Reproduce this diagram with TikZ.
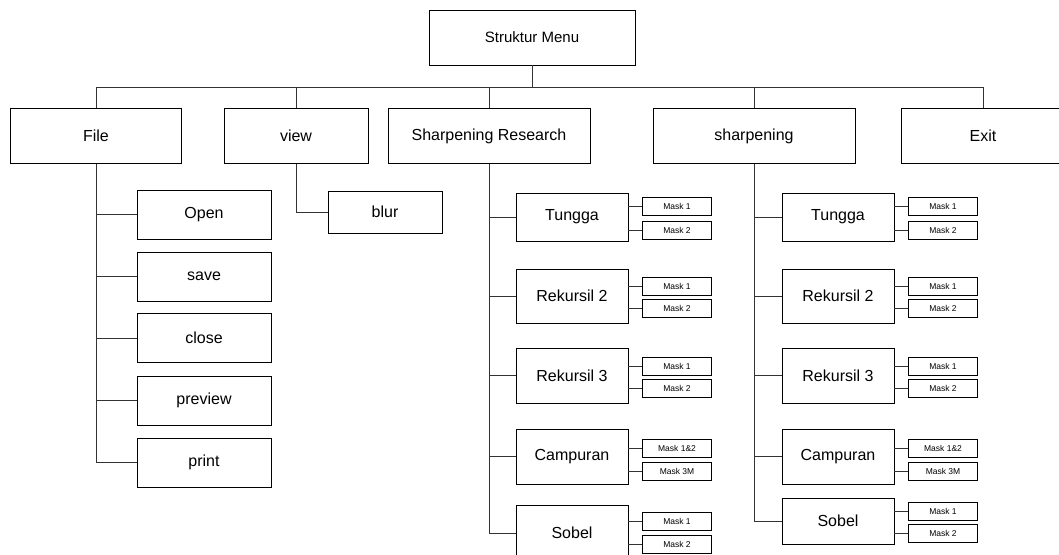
\documentclass[tikz,border=0pt]{standalone}
\usepackage{fontspec}
\setmainfont{Liberation Sans}
\usetikzlibrary{positioning}

\tikzset{
  box/.style={draw, line width=.8pt, inner sep=0pt, font=\fontsize{16}{18}\selectfont},
  subbox/.style={box, minimum width=112pt},
  mbox/.style={draw, line width=.8pt, inner sep=0pt, minimum width=69pt, minimum height=18pt, font=\fontsize{8.5}{9}\selectfont},
  link/.style={line width=.8pt, black!80}
}

\begin{document}
\begin{tikzpicture}[x=1pt,y=-1pt]
\clip (0,0) rectangle (1059,554);
\fill[white] (0,0) rectangle (1059,554);
% root and first level
\node[box, minimum width=206pt, minimum height=55pt, font=\fontsize{15}{17}\selectfont] (menu) at (532,37.5) {Struktur Menu};
\coordinate (bus) at (532,87);
\node[box, minimum width=171pt, minimum height=55pt] (file) at (96,136) {File};
\node[box, minimum width=144pt, minimum height=55pt] (view) at (296,136) {view};
\node[box, minimum width=202pt, minimum height=55pt] (sres) at (489,136) {Sharpening Research};
\node[box, minimum width=202pt, minimum height=55pt] (sharp) at (754,136) {sharpening};
\node[box, minimum width=164pt, minimum height=55pt] (exit) at (983,136) {Exit};
\draw[link] (menu.south) -- (bus);
\foreach \n in {file,view,sres,sharp,exit}
  \draw[link] (\n.north) |- (bus);

% File menu
\node[box, minimum width=134pt, minimum height=49pt] (open) at (204,214.5) {Open};
\node[box, minimum width=134pt, minimum height=49pt] (save) at (204,276.5) {save};
\node[box, minimum width=134pt, minimum height=49pt] (close) at (204,338) {close};
\node[box, minimum width=134pt, minimum height=49pt] (preview) at (204,400.5) {preview};
\node[box, minimum width=134pt, minimum height=49pt] (print) at (204,462.5) {print};
\foreach \n in {open,save,close,preview,print}
  \draw[link] (file.south) |- (\n.west);

% view menu
\node[box, minimum width=114pt, minimum height=42pt] (blur) at (385,212) {blur};
\draw[link] (view.south) |- (blur.west);

% Sharpening Research
\node[subbox, minimum height=48pt] (tunggaA) at (572,217) {Tungga};
\node[subbox, minimum height=54pt] (rekduaA) at (572,296) {Rekursil 2};
\node[subbox, minimum height=55pt] (rektigaA) at (572,375.5) {Rekursil 3};
\node[subbox, minimum height=55pt] (campA) at (572,456.5) {Campuran};
\node[subbox, minimum height=55pt] (sobelA) at (572,533) {Sobel};
\foreach \n in {tunggaA,rekduaA,rektigaA,campA,sobelA}
  \draw[link] (sres.south) |- (\n.west);

\node[mbox] (ta1) at (677,206.5) {Mask 1};
\node[mbox] (ta2) at (677,230) {Mask 2};
\node[mbox] (ra1) at (677,286) {Mask 1};
\node[mbox] (ra2) at (677,308.5) {Mask 2};
\node[mbox] (sa1) at (677,366) {Mask 1};
\node[mbox] (sa2) at (677,388) {Mask 2};
\node[mbox] (ca1) at (677,448) {Mask 1\&2};
\node[mbox] (ca2) at (677,471.5) {Mask 3M};
\node[mbox] (ba1) at (677,521) {Mask 1};
\node[mbox] (ba2) at (677,544) {Mask 2};
\foreach \p/\m in {tunggaA/ta1,tunggaA/ta2,rekduaA/ra1,rekduaA/ra2,rektigaA/sa1,rektigaA/sa2,campA/ca1,campA/ca2,sobelA/ba1,sobelA/ba2}
  \draw[link] (\m.west) -- (\m.west -| \p.east);

% sharpening
\node[subbox, minimum height=48pt] (tunggaB) at (838,217) {Tungga};
\node[subbox, minimum height=54pt] (rekduaB) at (838,296) {Rekursil 2};
\node[subbox, minimum height=55pt] (rektigaB) at (838,375.5) {Rekursil 3};
\node[subbox, minimum height=55pt] (campB) at (838,456.5) {Campuran};
\node[subbox, minimum height=46pt] (sobelB) at (838,521) {Sobel};
\foreach \n in {tunggaB,rekduaB,rektigaB,campB,sobelB}
  \draw[link] (sharp.south) |- (\n.west);

\node[mbox] (tb1) at (943,206.5) {Mask 1};
\node[mbox] (tb2) at (943,230) {Mask 2};
\node[mbox] (rb1) at (943,286) {Mask 1};
\node[mbox] (rb2) at (943,308.5) {Mask 2};
\node[mbox] (sb1) at (943,366) {Mask 1};
\node[mbox] (sb2) at (943,388) {Mask 2};
\node[mbox] (cb1) at (943,448) {Mask 1\&2};
\node[mbox] (cb2) at (943,471) {Mask 3M};
\node[mbox] (bb1) at (943,511) {Mask 1};
\node[mbox] (bb2) at (943,533.5) {Mask 2};
\foreach \p/\m in {tunggaB/tb1,tunggaB/tb2,rekduaB/rb1,rekduaB/rb2,rektigaB/sb1,rektigaB/sb2,campB/cb1,campB/cb2,sobelB/bb1,sobelB/bb2}
  \draw[link] (\m.west) -- (\m.west -| \p.east);
\end{tikzpicture}
\end{document}
